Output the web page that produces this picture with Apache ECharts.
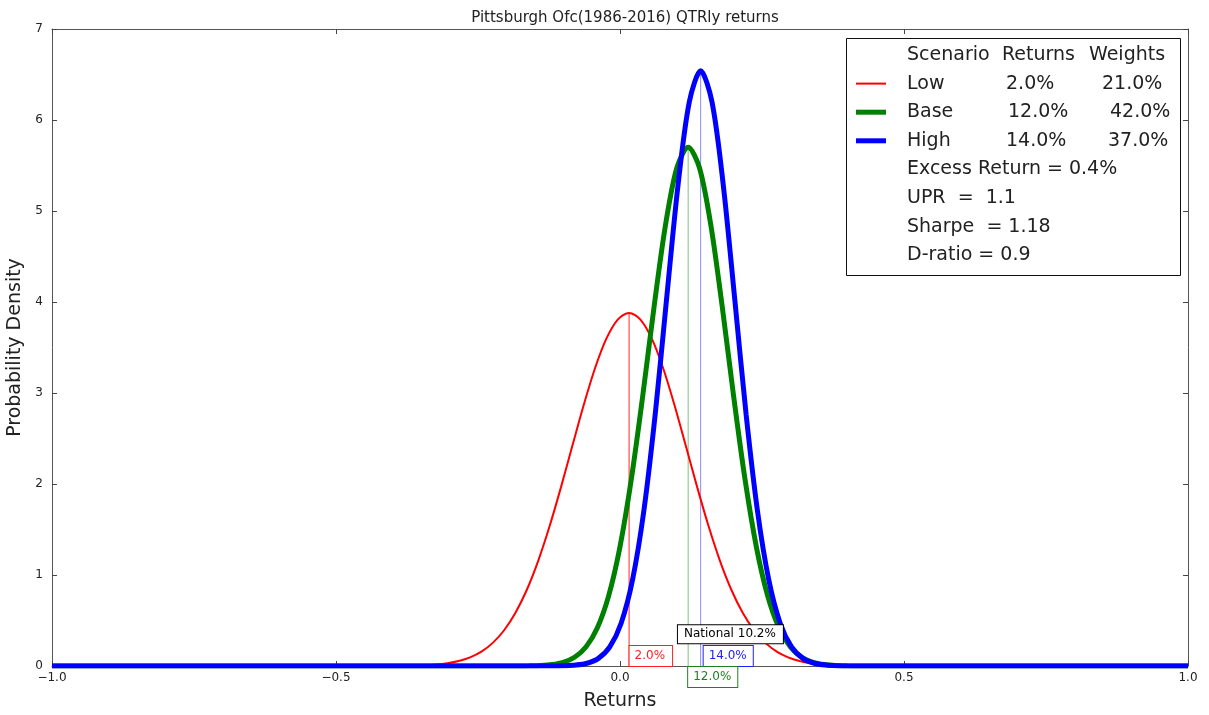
<!DOCTYPE html>
<html><head><meta charset="utf-8">
<script src="https://cdn.jsdelivr.net/npm/echarts@6/dist/echarts.min.js"></script>
<style>html,body{margin:0;padding:0;background:#fff}#c{width:1209px;height:715px}</style>
</head><body><div id="c"></div>
<script>
const titleText = 'Pittsburgh Ofc(1986-2016) QTRly returns';
const xAxisName = 'Returns';
const yAxisName = 'Probability Density';
const xTicks = [-1, -0.5, 0, 0.5, 1];
const xTickLabels = ['\u22121.0', '\u22120.5', '0.0', '0.5', '1.0'];
const yTickLabels = ['0', '1', '2', '3', '4', '5', '6', '7'];

// Low scenario density curve
const lowX = [-1, -0.464, -0.444, -0.424, -0.404, -0.384, -0.364, -0.344, -0.324, -0.304, -0.284, -0.264, -0.244, -0.224, -0.204, -0.184, -0.164, -0.144, -0.124, -0.104, -0.084, -0.064, -0.044, -0.024, -0.004, 0.016, 0.036, 0.056, 0.076, 0.096, 0.116, 0.136, 0.156, 0.176, 0.196, 0.216, 0.236, 0.256, 0.276, 0.296, 0.316, 0.336, 0.356, 0.376, 0.396, 0.416, 0.436, 0.456, 0.476, 0.496, 1];
const lowY = [0, 0.0001, 0.0002, 0.0004, 0.0009, 0.002, 0.0042, 0.0084, 0.0164, 0.0305, 0.0549, 0.0951, 0.158, 0.254, 0.393, 0.585, 0.838, 1.156, 1.535, 1.963, 2.417, 2.866, 3.272, 3.597, 3.807, 3.88, 3.807, 3.597, 3.272, 2.866, 2.417, 1.963, 1.535, 1.156, 0.838, 0.585, 0.393, 0.254, 0.158, 0.0951, 0.0549, 0.0305, 0.0164, 0.0084, 0.0042, 0.002, 0.0009, 0.0004, 0.0002, 0.0001, 0];

// Base scenario density curve
const baseX = [-1, -0.22, -0.20, -0.18, -0.16, -0.14, -0.12, -0.10, -0.08, -0.06, -0.04, -0.02, 0.00, 0.02, 0.04, 0.06, 0.08, 0.10, 0.12, 0.14, 0.16, 0.18, 0.20, 0.22, 0.24, 0.26, 0.28, 0.30, 0.32, 0.34, 0.36, 0.38, 0.40, 0.42, 0.44, 0.46, 1];
const baseY = [0, 0, 0.0002, 0.0006, 0.0019, 0.0058, 0.016, 0.0408, 0.0962, 0.209, 0.418, 0.771, 1.311, 2.055, 2.967, 3.948, 4.841, 5.472, 5.70, 5.472, 4.841, 3.948, 2.967, 2.055, 1.311, 0.771, 0.418, 0.209, 0.0962, 0.0408, 0.016, 0.0058, 0.0019, 0.0006, 0.0002, 0, 0];

// High scenario density curve
const highX = [-1, -0.158, -0.138, -0.118, -0.098, -0.078, -0.058, -0.038, -0.018, 0.002, 0.022, 0.042, 0.062, 0.082, 0.102, 0.122, 0.142, 0.162, 0.182, 0.202, 0.222, 0.242, 0.262, 0.282, 0.302, 0.322, 0.342, 0.362, 0.382, 0.402, 0.422, 0.442, 1];
const highY = [0, 0, 0.0002, 0.0007, 0.0028, 0.0098, 0.0303, 0.0841, 0.2097, 0.470, 0.944, 1.706, 2.767, 4.032, 5.275, 6.198, 6.54, 6.198, 5.275, 4.032, 2.767, 1.706, 0.944, 0.470, 0.2097, 0.0841, 0.0303, 0.0098, 0.0028, 0.0007, 0.0002, 0, 0];

const scenarioNames = ['Low', 'Base', 'High'];
const scenarioReturns = ['2.0%', '12.0%', '14.0%'];
const scenarioWeights = ['21.0%', '42.0%', '37.0%'];
const legendHeader = ['Scenario', 'Returns', 'Weights'];
const statLines = ['Excess Return = 0.4%', 'UPR  =  1.1', 'Sharpe  = 1.18', 'D-ratio = 0.9'];

const meanX = [0.016, 0.12, 0.142];
const meanPeak = [3.88, 5.70, 6.54];

const annoText = ['2.0%', '14.0%', '12.0%', 'National 10.2%'];
const annoX = [0.016, 0.142, 0.12, 0.102];
const annoY = [0, 0, 0, 0.25];

// ---- styling / layout ----
const FONT = '"DejaVu Sans", sans-serif';
const colors = ['#ff0000', '#008000', '#0000ff'];
const widths = [2, 5, 5];
const meanLineColors = ['rgba(255,0,0,0.85)', 'rgba(0,128,0,0.5)', 'rgba(0,0,255,0.45)'];
const curves = [[lowX, lowY], [baseX, baseY], [highX, highY]];

const chart = echarts.init(document.getElementById('c'), null, {renderer: 'canvas'});

function xFmt(v) {
  const i = xTicks.findIndex(t => Math.abs(t - v) < 1e-9);
  return i >= 0 ? xTickLabels[i] : '';
}

const axisLine = {show: true, onZero: false, lineStyle: {color: '#555', width: 1}};
const axisTick = {show: true, inside: true, length: 5, lineStyle: {color: '#444'}};

const series = [];
meanX.forEach((m, i) => {
  series.push({
    type: 'line', data: [[m, 0], [m, meanPeak[i]]], showSymbol: false, silent: true,
    lineStyle: {color: meanLineColors[i], width: 1}, z: 3
  });
});
curves.forEach((c, i) => {
  series.push({
    name: scenarioNames[i], type: 'line', showSymbol: false, smooth: 0.3,
    data: c[0].map((x, j) => [x, c[1][j]]),
    lineStyle: {color: colors[i], width: widths[i]}, z: 4 + i
  });
});

chart.setOption({
  animation: false,
  backgroundColor: '#fff',
  title: {
    text: titleText, left: 620, top: 6, textAlign: 'center',
    textStyle: {fontFamily: FONT, fontSize: 15, fontWeight: 'normal', color: '#222'}
  },
  grid: {left: 52, right: 21, top: 29, bottom: 49, containLabel: false, outerBoundsMode: 'none'},
  xAxis: [{
    type: 'value', min: -1, max: 1, interval: 0.5,
    name: xAxisName, nameLocation: 'middle', nameGap: 26,
    nameTextStyle: {fontFamily: FONT, fontSize: 19, color: '#222', verticalAlign: 'top'},
    axisLine, axisTick, splitLine: {show: false},
    axisLabel: {formatter: xFmt, fontFamily: FONT, fontSize: 12, color: '#222', margin: 6, showMinLabel: true, showMaxLabel: true, hideOverlap: false}
  }, {
    type: 'value', min: -1, max: 1, interval: 0.5, position: 'top',
    axisLine, axisTick, splitLine: {show: false}, axisLabel: {show: false}
  }],
  yAxis: [{
    type: 'value', min: 0, max: 7, interval: 1,
    name: yAxisName, nameLocation: 'middle', nameGap: 33,
    nameTextStyle: {fontFamily: FONT, fontSize: 19, color: '#222', verticalAlign: 'middle'},
    axisLine, axisTick, splitLine: {show: false},
    axisLabel: {formatter: v => yTickLabels[Math.round(v)], fontFamily: FONT, fontSize: 12, color: '#222', margin: 9, showMinLabel: true, showMaxLabel: true}
  }, {
    type: 'value', min: 0, max: 7, interval: 1, position: 'right',
    axisLine, axisTick, splitLine: {show: false}, axisLabel: {show: false}
  }],
  series
});

// ---- annotations & legend ----
const graphics = [];
const annoStyle = [
  {color: '#ff2020', anchor: 'bottom', dx: 0.5, dy: 0, pad: [4, 7, 4, 5]},
  {color: '#2020ff', anchor: 'bottom', dx: 3, dy: 0, pad: [4, 6, 4, 5]},
  {color: '#208020', anchor: 'top', dx: 0, dy: 1, pad: [4, 6, 4, 5]},
  {color: '#000000', anchor: 'bottom', dx: 0, dy: 0, pad: [3, 7, 3, 6]}
];
annoText.forEach((t, i) => {
  const p = chart.convertToPixel({gridIndex: 0}, [annoX[i], annoY[i]]);
  const s = annoStyle[i];
  graphics.push({
    type: 'text', x: p[0] + s.dx, y: p[1] + s.dy, z: 50,
    style: {
      text: t, fill: s.color, fontFamily: FONT, fontSize: 12,
      align: 'left', verticalAlign: s.anchor,
      backgroundColor: '#fff', borderColor: s.color, borderWidth: 1, padding: s.pad
    }
  });
});

const L = {x: 846, y: 38, w: 334, h: 237, row0: 55, step: 28.6};
graphics.push({
  type: 'rect', z: 60, shape: {x: L.x + 0.5, y: L.y + 0.5, width: L.w, height: L.h},
  style: {fill: '#fff', stroke: '#111', lineWidth: 1}
});
const textStyle = (text, x, y) => ({
  type: 'text', x, y, z: 61,
  style: {text, fill: '#222', fontFamily: FONT, fontSize: 19, align: 'left', verticalAlign: 'middle'}
});
const headerX = [907, 1002, 1089];
legendHeader.forEach((h, i) => graphics.push(textStyle(h, headerX[i], L.row0)));
const retX = [1006, 1008, 1006];
const wX = [1102, 1110, 1108];
scenarioNames.forEach((n, i) => {
  const y = L.row0 + L.step * (i + 1);
  graphics.push({
    type: 'line', z: 61, shape: {x1: 856, y1: y, x2: 886, y2: y},
    style: {stroke: colors[i], lineWidth: widths[i]}
  });
  graphics.push(textStyle(n, 907, y));
  graphics.push(textStyle(scenarioReturns[i], retX[i], y));
  graphics.push(textStyle(scenarioWeights[i], wX[i], y));
});
statLines.forEach((s, i) => {
  graphics.push(textStyle(s, 907, L.row0 + L.step * (i + 4)));
});

chart.setOption({graphic: graphics});
</script>
</body></html>
